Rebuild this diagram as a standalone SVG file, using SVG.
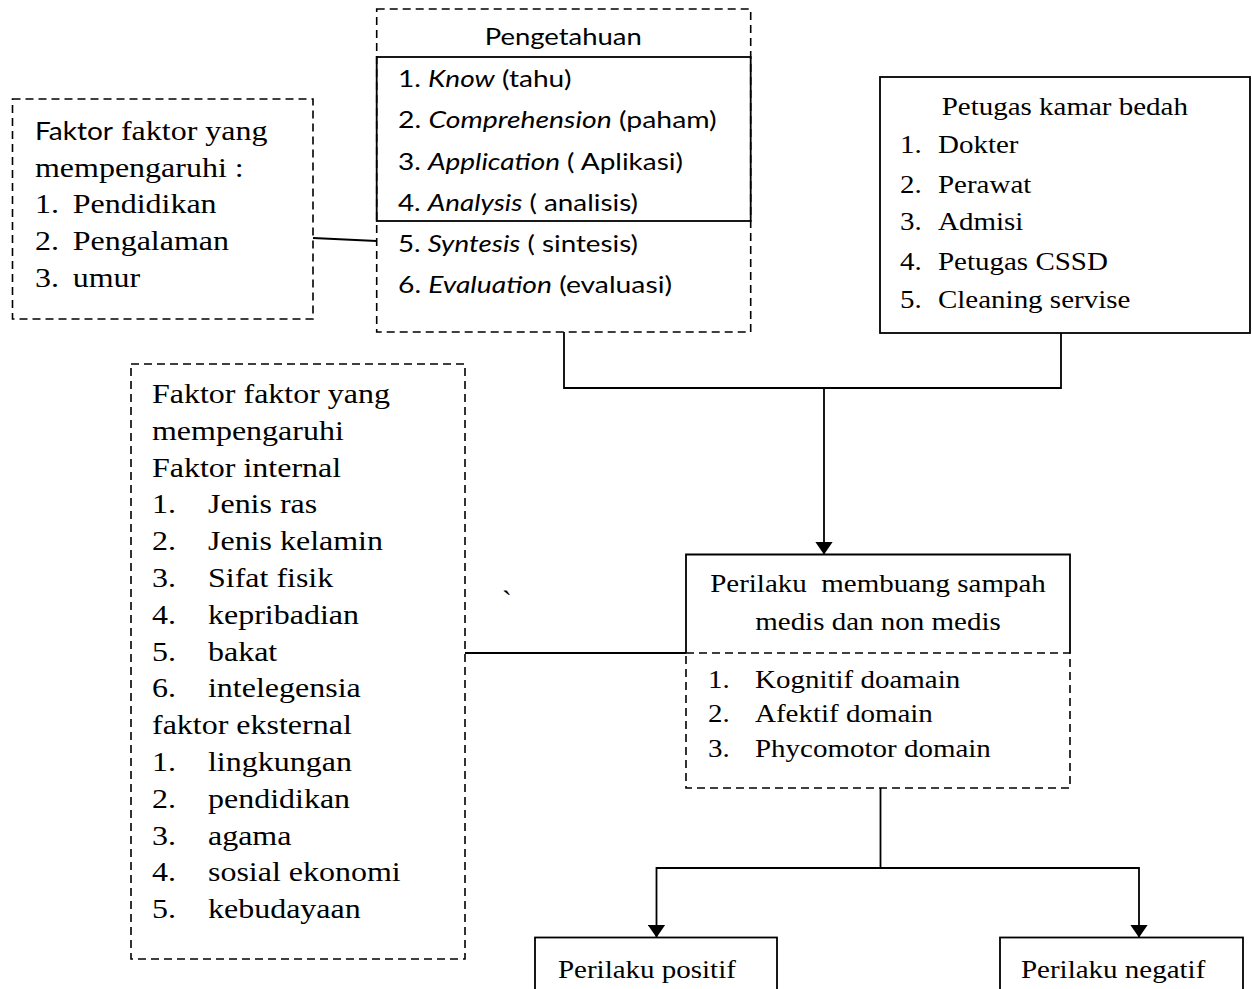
<svg xmlns="http://www.w3.org/2000/svg" width="1252" height="989" viewBox="0 0 1252 989">
<style>
.dash{fill:none;stroke:#000;stroke-width:1.6;stroke-dasharray:8 5}
.solid{fill:none;stroke:#000;stroke-width:1.8}
.t32{font-family:"Liberation Serif","Times New Roman",serif;font-size:32px;fill:#000}
.t29{font-family:"Liberation Serif","Times New Roman",serif;font-size:29px;fill:#000}
.c26{font-family:Lato,"Open Sans",sans-serif;font-size:26px;fill:#000}
.conn{fill:none;stroke:#000;stroke-width:1.8}
</style>
<defs>
<marker id="arr" markerUnits="userSpaceOnUse" viewBox="0 0 13 18" markerWidth="13" markerHeight="18" refX="13" refY="9" orient="auto">
<path d="M0,0 L13,9 L0,18 z" fill="#000"/>
</marker>
</defs>
<rect width="1252" height="989" fill="#fff"/>

<g id="faktor-umum">
<rect class="dash" x="12.5" y="99" width="300.5" height="220"/>
<g transform="scale(1,0.88)">
<text class="t32" x="35" y="159.09"><tspan class="c26" style="font-size:28px">Faktor</tspan> faktor yang</text>
<text class="t32" x="35" y="200.8">mempengaruhi :</text>
<text class="t32" x="35" y="242.39">1.</text><text class="t32" x="72.7" y="242.39">Pendidikan</text>
<text class="t32" x="35" y="284.09">2.</text><text class="t32" x="72.7" y="284.09">Pengalaman</text>
<text class="t32" x="35" y="325.8">3.</text><text class="t32" x="72.7" y="325.8">umur</text>
</g>
</g>

<g id="pengetahuan">
<rect class="dash" x="376.7" y="9" width="374" height="323"/>
<rect class="solid" x="376.7" y="57" width="374" height="164"/>
<g transform="scale(1,0.88)">
<text class="c26" x="563.3" y="51.14" text-anchor="middle" textLength="157" lengthAdjust="spacingAndGlyphs">Pengetahuan</text>
<text class="c26" x="398" y="98.86" textLength="173.5" lengthAdjust="spacingAndGlyphs">1. <tspan font-style="italic">Know</tspan> (tahu)</text>
<text class="c26" x="398" y="145.8" textLength="318.7" lengthAdjust="spacingAndGlyphs">2. <tspan font-style="italic">Comprehension</tspan> (paham)</text>
<text class="c26" x="398" y="192.73" textLength="285" lengthAdjust="spacingAndGlyphs">3. <tspan font-style="italic">Application</tspan> ( Aplikasi)</text>
<text class="c26" x="398" y="239.66" textLength="240" lengthAdjust="spacingAndGlyphs">4. <tspan font-style="italic">Analysis</tspan> ( analisis)</text>
<text class="c26" x="398" y="286.59" textLength="240" lengthAdjust="spacingAndGlyphs">5. <tspan font-style="italic">Syntesis</tspan> ( sintesis)</text>
<text class="c26" x="398" y="333.52" textLength="274" lengthAdjust="spacingAndGlyphs">6. <tspan font-style="italic">Evaluation</tspan> (evaluasi)</text>
</g>
</g>

<g id="petugas">
<rect class="solid" x="880" y="77" width="370" height="256"/>
<g transform="scale(1,0.88)">
<text class="t29" x="941.7" y="130.68">Petugas kamar bedah</text>
<text class="t29" x="900" y="174.2">1.</text><text class="t29" x="938" y="174.2">Dokter</text>
<text class="t29" x="900" y="218.98">2.</text><text class="t29" x="938" y="218.98">Perawat</text>
<text class="t29" x="900" y="261.36">3.</text><text class="t29" x="938" y="261.36">Admisi</text>
<text class="t29" x="900" y="306.82">4.</text><text class="t29" x="938" y="306.82">Petugas CSSD</text>
<text class="t29" x="900" y="350.34">5.</text><text class="t29" x="938" y="350.34">Cleaning servise</text>
</g>
</g>

<g id="faktor-perilaku">
<rect class="dash" x="131" y="364" width="334" height="595"/>
<g transform="scale(1,0.88)">
<text class="t32" x="152" y="457.95">Faktor faktor yang</text>
<text class="t32" x="152" y="499.77">mempengaruhi</text>
<text class="t32" x="152" y="541.59">Faktor internal</text>
<text class="t32" x="152" y="583.41">1.</text><text class="t32" x="208" y="583.41">Jenis ras</text>
<text class="t32" x="152" y="625.23">2.</text><text class="t32" x="208" y="625.23">Jenis kelamin</text>
<text class="t32" x="152" y="667.05">3.</text><text class="t32" x="208" y="667.05">Sifat fisik</text>
<text class="t32" x="152" y="708.86">4.</text><text class="t32" x="208" y="708.86">kepribadian</text>
<text class="t32" x="152" y="750.68">5.</text><text class="t32" x="208" y="750.68">bakat</text>
<text class="t32" x="152" y="792.5">6.</text><text class="t32" x="208" y="792.5">intelegensia</text>
<text class="t32" x="152" y="834.32">faktor eksternal</text>
<text class="t32" x="152" y="876.14">1.</text><text class="t32" x="208" y="876.14">lingkungan</text>
<text class="t32" x="152" y="917.95">2.</text><text class="t32" x="208" y="917.95">pendidikan</text>
<text class="t32" x="152" y="959.77">3.</text><text class="t32" x="208" y="959.77">agama</text>
<text class="t32" x="152" y="1001.59">4.</text><text class="t32" x="208" y="1001.59">sosial ekonomi</text>
<text class="t32" x="152" y="1043.41">5.</text><text class="t32" x="208" y="1043.41">kebudayaan</text>
</g>
</g>

<g id="stray-mark">
<text class="t29" x="502" y="611">`</text>
</g>

<g id="perilaku">
<rect class="dash" x="686" y="653" width="384" height="135"/>
<path class="solid" d="M686,653 V554.5 H1070 V653"/>
<g transform="scale(1,0.88)">
<text class="t29" x="878" y="672.73" text-anchor="middle" xml:space="preserve">Perilaku  membuang sampah</text>
<text class="t29" x="878" y="715.91" text-anchor="middle">medis dan non medis</text>
<text class="t29" x="708" y="782.16">1.</text><text class="t29" x="755" y="782.16">Kognitif doamain</text>
<text class="t29" x="708" y="820.8">2.</text><text class="t29" x="755" y="820.8">Afektif domain</text>
<text class="t29" x="708" y="860.57">3.</text><text class="t29" x="755" y="860.57">Phycomotor domain</text>
</g>
</g>

<g id="positif">
<rect class="solid" x="535" y="937.5" width="242" height="60"/>
<g transform="scale(1,0.88)">
<text class="t29" x="558" y="1111.36">Perilaku positif</text>
</g>
</g>

<g id="negatif">
<rect class="solid" x="1000" y="937.5" width="243" height="60"/>
<g transform="scale(1,0.88)">
<text class="t29" x="1021" y="1111.36">Perilaku negatif</text>
</g>
</g>

<g id="connectors">
<path class="conn" d="M313,238 L376.7,241"/>
<path class="conn" d="M564,332 V388 H1061 V333"/>
<path class="conn" d="M824,388 V554.5" marker-end="url(#arr)"/>
<path class="conn" d="M465,653 H686"/>
<path class="conn" d="M880.5,788 V868 H656.5 V937.5" marker-end="url(#arr)"/>
<path class="conn" d="M880.5,868 H1139 V937.5" marker-end="url(#arr)"/>
</g>
</svg>
